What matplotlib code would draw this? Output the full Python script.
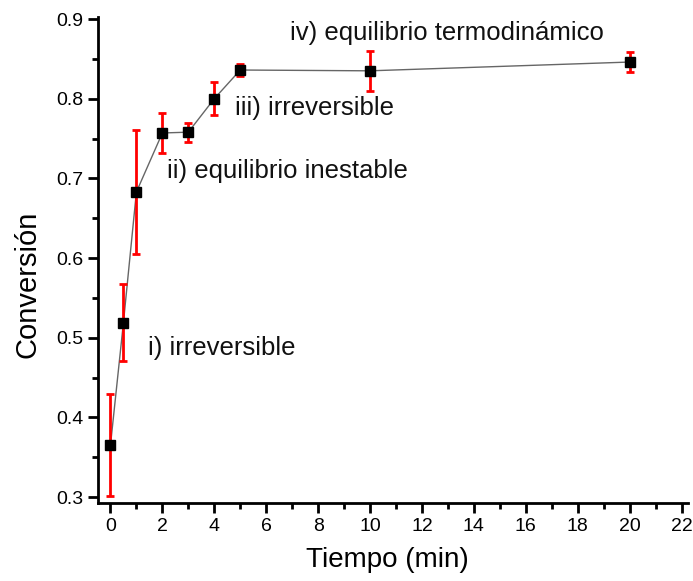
import matplotlib
matplotlib.use('Agg')
import matplotlib.pyplot as plt
from matplotlib.ticker import MultipleLocator

plt.rcParams['font.family'] = ['Liberation Sans', 'DejaVu Sans']

tiempo = [0, 0.5, 1, 2, 3, 4, 5, 10, 20]
conversion = [0.365, 0.519, 0.683, 0.757, 0.758, 0.800, 0.836, 0.835, 0.846]
error = [0.064, 0.048, 0.078, 0.0245, 0.012, 0.021, 0.0075, 0.025, 0.013]

etiquetas = ['i) irreversible', 'ii) equilibrio inestable', 'iii) irreversible',
             'iv) equilibrio termodinámico']
pos_etiquetas = [(1.44, 0.487), (2.17, 0.709), (4.8, 0.788), (6.9, 0.882)]

fig = plt.figure(figsize=(6.93, 5.81), dpi=100)
ax = fig.add_axes([0.1414, 0.134, 0.8514, 0.8367])

ax.plot(tiempo, conversion, color='#666666', lw=1.0, zorder=1)
ax.errorbar(tiempo, conversion, yerr=error, fmt='none', ecolor='red', elinewidth=2,
            capsize=3, capthick=2, zorder=2)
ax.plot(tiempo, conversion, 's', color='black', markersize=6.5, zorder=3)

for texto, (x, y) in zip(etiquetas, pos_etiquetas):
    ax.text(x, y, texto, fontsize=18.5, va='center', ha='left', color='#111111')

ax.set_xlim(-0.48, 22.25)
ax.set_ylim(0.2925, 0.9025)
ax.xaxis.set_major_locator(MultipleLocator(2))
ax.xaxis.set_minor_locator(MultipleLocator(1))
ax.yaxis.set_minor_locator(MultipleLocator(0.05))
ax.set_yticks([0.3, 0.4, 0.5, 0.6, 0.7, 0.8, 0.9])
ax.set_yticklabels(['0.3', '0.4', '0.5', '0.6', '0.7', '0.8', '0.9'])

ax.spines['top'].set_visible(False)
ax.spines['right'].set_visible(False)
ax.spines['left'].set_linewidth(2)
ax.spines['bottom'].set_linewidth(2)
ax.tick_params(which='major', direction='out', length=7, width=2, labelsize=14)
ax.tick_params(which='minor', direction='out', length=4, width=2)

ax.set_xlabel('Tiempo (min)', fontsize=20)
ax.set_ylabel('Conversión', fontsize=21)
ax.xaxis.set_label_coords(0.49, -0.117)
ax.yaxis.set_label_coords(-0.12, 0.45)
ax.xaxis.label.set_va('center')
ax.yaxis.label.set_va('center')

plt.savefig('out.png', dpi=100)
